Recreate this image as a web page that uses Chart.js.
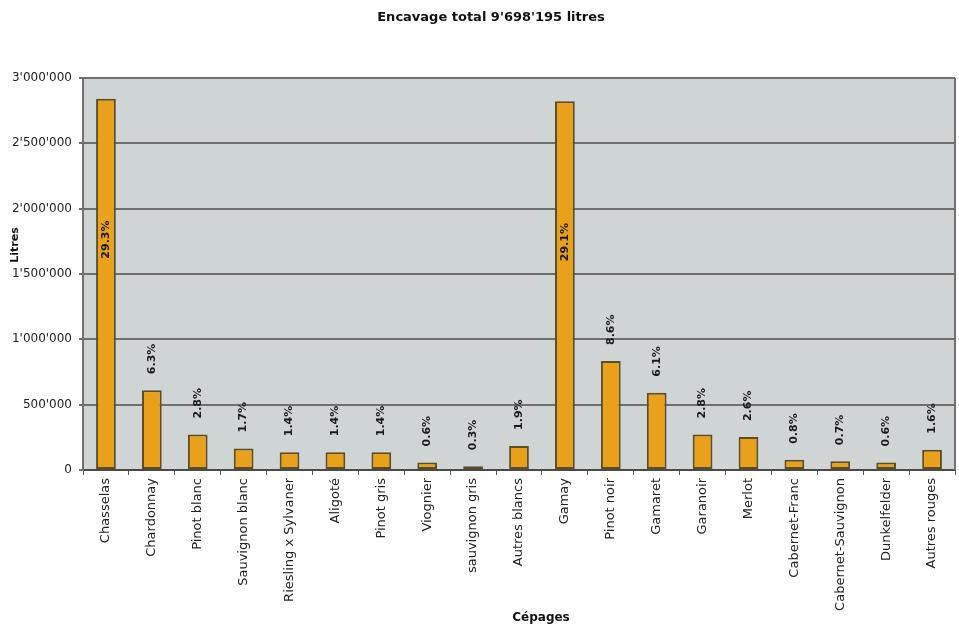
<!DOCTYPE html>
<html>
<head>
<meta charset="utf-8">
<script src="https://cdn.jsdelivr.net/npm/chart.js@4"></script>
<style>
    body { margin: 0; background: #ffffff; }
    #wrap { width: 959px; height: 627px; }
</style>
</head>
<body>
<div id="wrap"><canvas id="chart" width="959" height="627"></canvas></div>
<script>
// Grape varieties (cépages) and volumes in litres
const categories = [
    'Chasselas', 'Chardonnay', 'Pinot blanc', 'Sauvignon blanc', 'Riesling x Sylvaner',
    'Aligoté', 'Pinot gris', 'Viognier', 'sauvignon gris', 'Autres blancs',
    'Gamay', 'Pinot noir', 'Gamaret', 'Garanoir', 'Merlot',
    'Cabernet-Franc', 'Cabernet-Sauvignon', 'Dunkelfelder', 'Autres rouges'
];
const volumes = [
    2842000, 611000, 271500, 165000, 135800,
    135800, 135800, 58200, 29100, 184300,
    2822000, 834000, 591600, 271500, 252200,
    77600, 67900, 58200, 155200
];
const shares = [
    '29.3%', '6.3%', '2.8%', '1.7%', '1.4%',
    '1.4%', '1.4%', '0.6%', '0.3%', '1.9%',
    '29.1%', '8.6%', '6.1%', '2.8%', '2.6%',
    '0.8%', '0.7%', '0.6%', '1.6%'
];
const chartTitle = "Encavage total 9'698'195 litres";
const xTitle = 'Cépages';
const yTitle = 'Litres';

const FONT = "'DejaVu Sans', sans-serif";

function swissNumber(v) {
    return String(v).replace(/\B(?=(\d{3})+(?!\d))/g, "'");
}

// Grey plot area with a frame, drawn behind the bars
const plotBackground = {
    id: 'plotBackground',
    beforeDraw(chart) {
        const { ctx, chartArea: a } = chart;
        ctx.save();
        ctx.fillStyle = '#cfd4d5';
        ctx.fillRect(a.left, a.top, a.right - a.left, a.bottom - a.top);
        ctx.restore();
    },
    afterDraw(chart) {
        const { ctx, chartArea: a } = chart;
        ctx.save();
        ctx.strokeStyle = '#6f6f6f';
        ctx.lineWidth = 2;
        ctx.beginPath();
        ctx.moveTo(a.right, a.top);
        ctx.lineTo(a.right, a.bottom);
        ctx.stroke();
        ctx.restore();
    }
};

// Rotated percentage labels above each bar
const shareLabels = {
    id: 'shareLabels',
    afterDatasetsDraw(chart) {
        const { ctx, chartArea } = chart;
        const meta = chart.getDatasetMeta(0);
        ctx.save();
        ctx.font = 'bold 11px ' + FONT;
        ctx.fillStyle = '#1a1a1a';
        ctx.textAlign = 'left';
        ctx.textBaseline = 'middle';
        meta.data.forEach((bar, i) => {
            const w = ctx.measureText(shares[i]).width;
            let start = bar.y - 16;
            // no room above: put it inside the bar
            if (start - w < chartArea.top) start = bar.y + 160;
            ctx.save();
            ctx.translate(bar.x, start);
            ctx.rotate(-Math.PI / 2);
            ctx.fillText(shares[i], 0, 0);
            ctx.restore();
        });
        ctx.restore();
    }
};

// Chart title and axis titles
const titles = {
    id: 'titles',
    afterDraw(chart) {
        const ctx = chart.ctx;
        ctx.save();
        ctx.fillStyle = '#111111';
        ctx.textAlign = 'center';
        ctx.textBaseline = 'middle';
        ctx.font = 'bold 13px ' + FONT;
        ctx.fillText(chartTitle, 491, 18);
        ctx.font = 'bold 12px ' + FONT;
        ctx.fillText(xTitle, 541, 618);
        ctx.translate(15, 245);
        ctx.rotate(-Math.PI / 2);
        ctx.font = 'bold 11px ' + FONT;
        ctx.fillText(yTitle, 0, 0);
        ctx.restore();
    }
};

const ctx = document.getElementById('chart').getContext('2d');

new Chart(ctx, {
    type: 'bar',
    data: {
        labels: categories,
        datasets: [{
            data: volumes,
            backgroundColor: '#e9a11c',
            borderColor: '#5e4c22',
            borderWidth: 2,
            borderSkipped: false,
            barPercentage: 0.43,
            categoryPercentage: 1
        }]
    },
    options: {
        responsive: false,
        devicePixelRatio: 1,
        animation: false,
        layout: {
            padding: { top: 78, right: 4, left: 0, bottom: 0 }
        },
        plugins: {
            legend: { display: false },
            title: { display: false },
            tooltip: { enabled: false }
        },
        scales: {
            x: {
                afterFit(scale) { scale.height = 157; },
                grid: {
                    drawOnChartArea: false,
                    drawTicks: true,
                    tickLength: 5,
                    color: '#555555',
                    offset: true
                },
                border: { color: '#4a4a4a', width: 2 },
                ticks: {
                    autoSkip: false,
                    minRotation: 90,
                    maxRotation: 90,
                    padding: 3,
                    color: '#222222',
                    font: { family: FONT, size: 13 }
                }
            },
            y: {
                min: 0,
                max: 3000000,
                afterFit(scale) { scale.width = 83; },
                grid: {
                    color: '#6f6f6f',
                    lineWidth: 2,
                    tickLength: 4
                },
                border: { color: '#6f6f6f', width: 2 },
                ticks: {
                    stepSize: 500000,
                    padding: 7,
                    color: '#222222',
                    font: { family: FONT, size: 12 },
                    callback: (v) => swissNumber(v)
                }
            }
        }
    },
    plugins: [plotBackground, shareLabels, titles]
});
</script>
</body>
</html>
